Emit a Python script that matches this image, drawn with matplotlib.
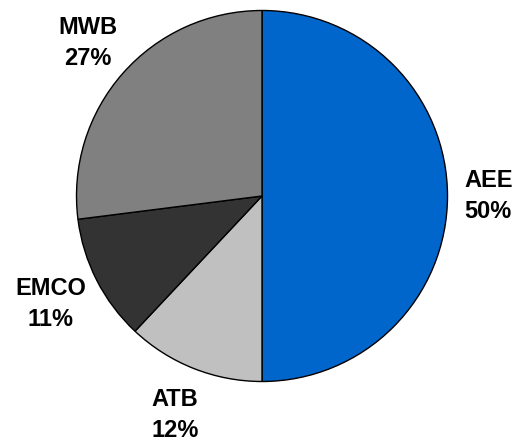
import numpy as np
import matplotlib
matplotlib.use("Agg")
import matplotlib.pyplot as plt

names = ["AEE", "ATB", "EMCO", "MWB"]
shares = [50, 12, 11, 27]
colors = ["#0066CC", "#C0C0C0", "#333333", "#808080"]
label_dist = [1.22, 1.27, 1.28, 1.25]

W, H = 517, 443
cx, cy, R = 262, 196, 185.5   # pie centre / radius in pixels

fig = plt.figure(figsize=(W / 100, H / 100), dpi=100)
ax = fig.add_axes([0, 0, 1, 1])
wedges, _ = ax.pie(shares, colors=colors, startangle=90, counterclock=False,
                   wedgeprops=dict(edgecolor="black", linewidth=1.0))
ax.set_xlim(-cx / R, (W - cx) / R)
ax.set_ylim(-(H - cy) / R, cy / R)
ax.set_aspect("auto")
ax.set_axis_off()

for w, name, pct, d in zip(wedges, names, shares, label_dist):
    mid = np.deg2rad((w.theta1 + w.theta2) / 2)
    ax.text(d * np.cos(mid), d * np.sin(mid), f"{name}\n{pct}%",
            ha="center", va="center", fontsize=17, fontweight="bold",
            family="Liberation Sans", linespacing=1.45, multialignment="center")

fig.savefig("out.png", dpi=100)
